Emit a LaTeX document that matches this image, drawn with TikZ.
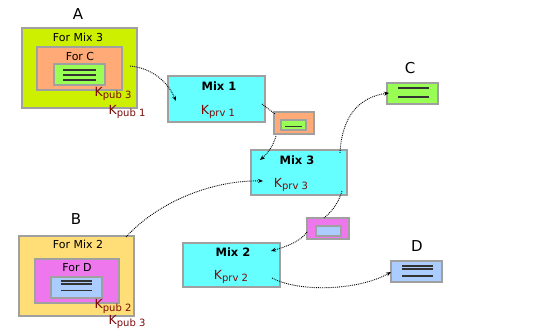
\documentclass[tikz,border=0pt]{standalone}
\usepackage{fontspec}
\setmainfont{DejaVu Sans}
\usetikzlibrary{arrows.meta}
\definecolor{cyanbox}{HTML}{66FFFF}
\definecolor{limebox}{HTML}{CCF000}
\definecolor{orangebox}{HTML}{FFAA77}
\definecolor{greenbox}{HTML}{99FF55}
\definecolor{sandbox}{HTML}{FFDD77}
\definecolor{magbox}{HTML}{EE77EE}
\definecolor{bluebox}{HTML}{AACCFF}
\definecolor{keyred}{HTML}{7A0A0A}
\definecolor{edge}{HTML}{A0A0A0}
\tikzset{
  mixbox/.style={draw=edge, line width=1.2pt, fill=cyanbox, inner sep=0pt},
  ttl/.style={font=\fontsize{11}{12}\selectfont, inner sep=0pt},
  mixttl/.style={font=\fontsize{11.5}{12}\selectfont\bfseries, inner sep=0pt},
  keytxt/.style={text=keyred, font=\fontsize{12.5}{13}\selectfont, inner sep=0pt},
  letter/.style={font=\fontsize{15}{16}\selectfont, inner sep=0pt},
  msg/.style={line width=1.1pt, black!80},
  flow/.style={densely dotted, line width=0.9pt, -{Stealth[length=5pt,width=4pt]}},
  link/.style={densely dotted, line width=0.9pt}
}
\newcommand{\kk}[1]{K\raisebox{-0.4ex}{\fontsize{10}{11}\selectfont #1}}
\begin{document}
\begin{tikzpicture}[x=1pt,y=-1pt]
\useasboundingbox (0,0) rectangle (535,331);
% A
\node[letter] (labA) at (78,14) {A};
\node[draw=edge,line width=1.2pt,fill=limebox,minimum width=115pt,minimum height=80pt,inner sep=0pt] (outerA) at (79.5,68) {};
\node[ttl] (forMix3) at (78,37) {For Mix 3};
\node[draw=edge,line width=1.2pt,fill=orangebox,minimum width=85pt,minimum height=43pt,inner sep=0pt] (forC) at (79.5,68.5) {};
\node[ttl] (forCtxt) at (80,56) {For C};
\node[draw=edge,line width=1.2pt,fill=greenbox,minimum width=51pt,minimum height=21pt,inner sep=0pt] (msgA) at (79.5,74.5) {};
\draw[msg] (63,70) -- (96,70) (63,75) -- (96,75) (63,80) -- (96,80);
\node[keytxt] (kpubAthree) at (113,94) {\kk{pub 3}};
\node[keytxt] (kpubAone) at (127,112) {\kk{pub 1}};
% Mix 1
\node[mixbox,minimum width=97pt,minimum height=46pt] (mix1) at (216.5,99) {};
\node[mixttl] (mix1t) at (219,86) {Mix 1};
\node[keytxt] (mix1k) at (218,112) {\kk{prv 1}};
% packet for mix 3
\node[draw=edge,line width=1.2pt,fill=orangebox,minimum width=40pt,minimum height=22pt,inner sep=0pt] (pktC) at (294,123) {};
\node[draw=edge,line width=1.2pt,fill=greenbox,minimum width=25pt,minimum height=10pt,inner sep=0pt] (pktCin) at (293.5,125) {};
\draw[msg] (285,126.5) -- (302,126.5);
% Mix 3
\node[mixbox,minimum width=96pt,minimum height=45pt] (mix3) at (299,172.5) {};
\node[mixttl] (mix3t) at (297,160) {Mix 3};
\node[keytxt] (mix3k) at (291,185) {\kk{prv 3}};
% C
\node[letter] (labC) at (410,68) {C};
\node[draw=edge,line width=1.2pt,fill=greenbox,minimum width=51pt,minimum height=21pt,inner sep=0pt] (boxC) at (412.5,93.5) {};
\draw[msg] (398,88) -- (429,88) (398,97) -- (429,97);
% B
\node[letter] (labB) at (76,219) {B};
\node[draw=edge,line width=1.2pt,fill=sandbox,minimum width=115pt,minimum height=80pt,inner sep=0pt] (outerB) at (76.5,276) {};
\node[ttl] (forMix2) at (78,244) {For Mix 2};
\node[draw=edge,line width=1.2pt,fill=magbox,minimum width=84pt,minimum height=44pt,inner sep=0pt] (forD) at (77,281) {};
\node[ttl] (forDtxt) at (77,268) {For D};
\node[draw=edge,line width=1.2pt,fill=bluebox,minimum width=51pt,minimum height=21pt,inner sep=0pt] (msgB) at (76.5,287.5) {};
\draw[msg] (61,281) -- (92,281) (61,284) -- (92,284) (61,290.5) -- (92,290.5);
\node[keytxt] (kpubBtwo) at (113,306.5) {\kk{pub 2}};
\node[keytxt] (kpubBthree) at (127,322) {\kk{pub 3}};
% packet for mix 2
\node[draw=edge,line width=1.2pt,fill=magbox,minimum width=42pt,minimum height=21pt,inner sep=0pt] (pktD) at (328,228.5) {};
\node[draw=edge,line width=1.2pt,fill=bluebox,minimum width=25pt,minimum height=10pt,inner sep=0pt] (pktDin) at (328.5,231) {};
% Mix 2
\node[mixbox,minimum width=97pt,minimum height=44pt] (mix2) at (231.5,265) {};
\node[mixttl] (mix2t) at (233,252) {Mix 2};
\node[keytxt] (mix2k) at (231,277) {\kk{prv 2}};
% D
\node[letter] (labD) at (417,246) {D};
\node[draw=edge,line width=1.2pt,fill=bluebox,minimum width=51pt,minimum height=21pt,inner sep=0pt] (boxD) at (416.5,271.5) {};
\draw[msg] (402,266) -- (433,266) (402,269) -- (433,269) (402,276) -- (433,276);
% connectors
\coordinate (a1) at (130,66);
\coordinate (a2) at (176,101);
\draw[flow] (a1) .. controls (152,68) and (168,82) .. (a2);
\coordinate (m1o) at (262,104);
\coordinate (pco) at (275,114);
\draw[link] (m1o) -- (pco);
\coordinate (pcb) at (276,136);
\coordinate (m3a) at (260,160);
\draw[flow] (pcb) .. controls (273,147) and (266,155) .. (m3a);
\coordinate (b1) at (126,237);
\coordinate (m3b) at (263,181);
\draw[flow] (b1) .. controls (160,200) and (215,180) .. (m3b);
\coordinate (m3c) at (340,153);
\coordinate (c1) at (389,93);
\draw[flow] (m3c) .. controls (342,115) and (360,97) .. (c1);
\coordinate (m3d) at (342,191);
\coordinate (pdt) at (324,218);
\draw[link] (m3d) .. controls (338,205) and (330,213) .. (pdt);
\coordinate (pdl) at (307,232);
\coordinate (m2a) at (271,251);
\draw[flow] (pdl) .. controls (300,242) and (285,247) .. (m2a);
\coordinate (m2o) at (272,278);
\coordinate (d1) at (391,272);
\draw[flow] (m2o) .. controls (300,293) and (360,290) .. (d1);
\end{tikzpicture}
\end{document}
